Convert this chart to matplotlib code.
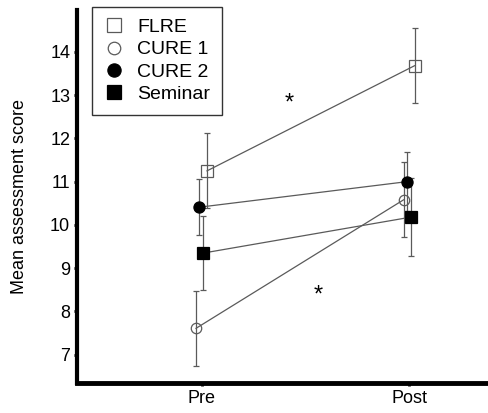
import matplotlib
matplotlib.use('Agg')
import matplotlib.pyplot as plt
from matplotlib.lines import Line2D
from matplotlib.transforms import offset_copy

plt.rcParams['font.family'] = ['Liberation Sans', 'DejaVu Sans']

groups = ['FLRE', 'CURE 1', 'CURE 2', 'Seminar']
times = ['Pre', 'Post']
pre_mean = [11.25, 7.61, 10.41, 9.35]
post_mean = [13.68, 10.58, 11.00, 10.18]
pre_err = [0.87, 0.86, 0.65, 0.86]
post_err = [0.87, 0.87, 0.68, 0.90]
star_x = [1.42, 1.56]
star_y = [12.97, 8.54]

# marker style per group: (marker, face, size)
styles = {'FLRE': ('s', 'none', 8.5),
          'CURE 1': ('o', 'none', 7.5),
          'CURE 2': ('o', 'black', 8),
          'Seminar': ('s', 'black', 8)}
dodge = {'FLRE': 0.026, 'CURE 1': -0.027, 'CURE 2': -0.011, 'Seminar': 0.008}
grey = '#5a5a5a'

fig = plt.figure(figsize=(4.88, 4.13), dpi=100)
ax = fig.add_axes([0.158, 0.073, 0.842, 0.903])

for i, g in enumerate(groups):
    mk, fc, ms = styles[g]
    xs = [1 + dodge[g], 2 + dodge[g]]
    ys = [pre_mean[i], post_mean[i]]
    es = [pre_err[i], post_err[i]]
    ax.errorbar(xs, ys, yerr=es, fmt='none', ecolor=grey, elinewidth=0.9,
                capsize=2, capthick=0.9, zorder=2)
    ax.plot(xs, ys, color=grey, lw=0.9, zorder=3)
    ec = grey if fc == 'none' else 'black'
    ax.plot(xs, ys, linestyle='none', marker=mk, ms=ms, mfc=fc, mec=ec,
            mew=0.9, zorder=4)

# asterisk glyph sits high in the em box, shift it down to centre on the point
star_tr = offset_copy(ax.transData, fig=fig, x=0, y=-9.5, units='points')
for sx, sy in zip(star_x, star_y):
    ax.text(sx, sy, '*', fontsize=17, ha='center', va='baseline',
            transform=star_tr)

ax.set_xlim(0.4, 2.38)
ax.set_ylim(6.35, 14.97)
ax.set_xticks([1, 2])
ax.set_xticklabels(times)
ax.set_yticks(range(7, 15))
ax.tick_params(axis='both', length=2, width=2, labelsize=13, pad=3)
ax.set_ylabel('Mean assessment score', fontsize=13, labelpad=16)
for s in ['top', 'right']:
    ax.spines[s].set_visible(False)
ax.spines['left'].set_linewidth(3)
ax.spines['bottom'].set_linewidth(3.5)

handles = []
for g in groups:
    mk, fc, ms = styles[g]
    handles.append(Line2D([], [], linestyle='none', marker=mk, ms=ms + 1.5,
                          mfc=fc, mec=grey if fc == 'none' else 'black',
                          mew=0.9, label=g))
leg = ax.legend(handles=handles, loc='upper left', bbox_to_anchor=(0.036, 1.009),
                fontsize=14, frameon=True, fancybox=False, edgecolor='black',
                handlelength=1.0, handletextpad=0.7, labelspacing=0.24,
                borderpad=0.62, borderaxespad=0)
leg.get_frame().set_linewidth(1.0)

fig.savefig('out.png', dpi=100)
